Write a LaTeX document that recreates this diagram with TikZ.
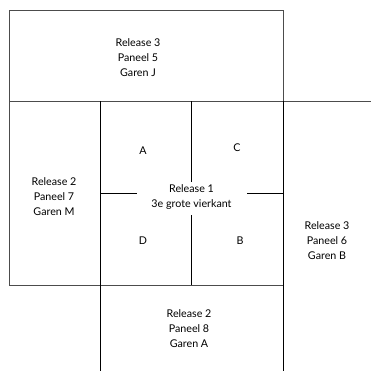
\documentclass[tikz,border=0pt]{standalone}
\usepackage{fontspec}
\setmainfont{Lato}
\begin{document}
\begin{tikzpicture}[x=1pt,y=-1pt,
  outer/.style={draw=black!70,line width=0.9pt},
  inner/.style={draw=black,line width=1pt},
  lbl/.style={align=center,font=\fontsize{10.7}{15}\selectfont,inner sep=0pt}]
\useasboundingbox (0,0) rectangle (371,371);
% coordinates
\coordinate (tl) at (9,10.5);
\coordinate (tr) at (283,10.5);
\coordinate (ml) at (9,101.5);
\coordinate (mr) at (283,101.5);
\coordinate (edge) at (371,101.5);
\coordinate (bl) at (9,285);
\coordinate (c1t) at (100,101.5);
\coordinate (c1b) at (100,371);
\coordinate (c3b) at (283,371);
\coordinate (cbr) at (283,285);
\coordinate (c2t) at (191.5,101.5);
\coordinate (c2m1) at (191.5,182);
\coordinate (c2m2) at (191.5,215);
\coordinate (c2b) at (191.5,285);
\coordinate (tkl) at (100,193.5);
\coordinate (tkle) at (137,193.5);
\coordinate (tkre) at (247,193.5);
\coordinate (tkr) at (283,193.5);
% top box
\draw[outer] (ml) -- (tl) -- (tr) -- (mr);
\draw[outer] (mr) -- (edge);
\draw[outer] (ml) -- (mr);
% left box
\draw[outer] (ml) -- (bl) -- (cbr);
% verticals
\draw[inner] (c1t) -- (c1b);
\draw[inner] (mr) -- (c3b);
\draw[inner] (c2t) -- (c2m1);
\draw[inner] (c2m2) -- (c2b);
% ticks
\draw[inner] (tkl) -- (tkle);
\draw[inner] (tkre) -- (tkr);
% labels
\node[lbl] (r3p5) at (138,58) {Release 3\\Paneel 5\\Garen J};
\node[lbl] (r2p7) at (54,197) {Release 2\\Paneel 7\\Garen M};
\node[lbl] (r1) at (191.5,197) {Release 1\\3e grote vierkant};
\node[lbl] (qa) at (143,151) {A};
\node[lbl] (qc) at (237,148) {C};
\node[lbl] (qd) at (143,241) {D};
\node[lbl] (qb) at (240,241) {B};
\node[lbl] (r3p6) at (327,240.5) {Release 3\\Paneel 6\\Garen B};
\node[lbl] (r2p8) at (189,328.5) {Release 2\\Paneel 8\\Garen A};
\end{tikzpicture}
\end{document}
